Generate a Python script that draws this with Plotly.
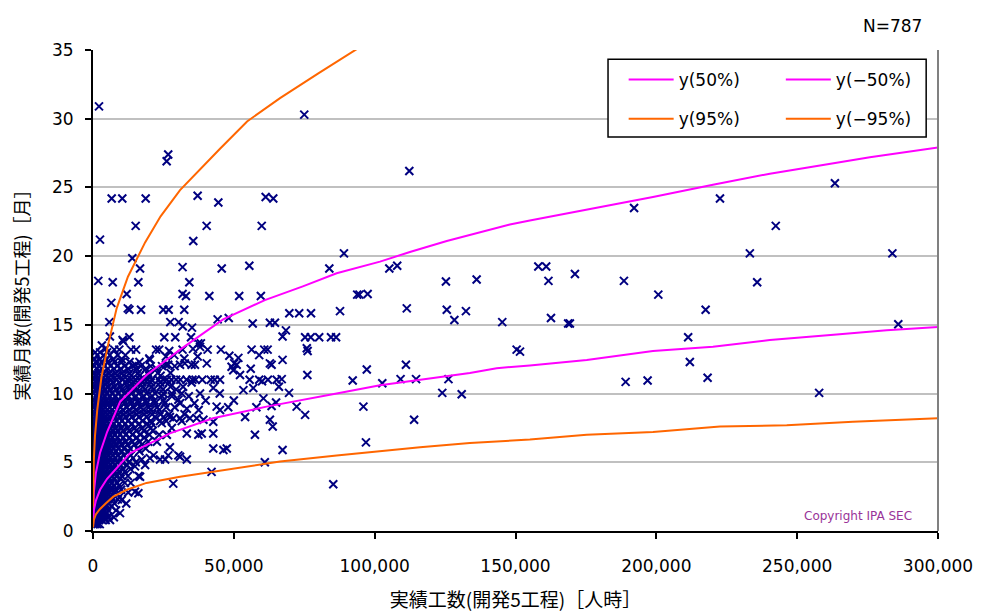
import plotly.graph_objects as go

# ---- project data: effort [man-hours] vs. duration [months] ----
# Dense region near the origin, grouped by duration (months) with the efforts observed at that duration
row_months = [
    0.5, 0.8, 1.0, 1.3, 1.5, 1.8, 2.0, 2.3, 2.5, 2.8,
    3.0, 3.3, 3.5, 3.8, 4.0, 4.3, 4.5, 4.8, 5.0, 5.3,
    5.5, 5.8, 6.0, 6.3, 6.5, 6.8, 7.0, 7.3, 7.5, 7.8,
    8.0, 8.3, 8.5, 8.8, 9.0, 9.3, 9.5, 9.8, 10.0, 10.3,
    10.5, 10.8, 11.0, 11.3, 11.5, 11.8, 12.0, 12.3, 12.5, 12.8,
    13.0,
]
row_efforts = [
    [300, 900, 1600, 2400],
    [500, 1200, 2000, 3200, 4500],
    [200, 800, 1400, 2200, 3000, 4000, 7400],
    [400, 1000, 1700, 2600, 3600, 5000],
    [200, 700, 1300, 2000, 2900, 3900, 5500, 8200],
    [500, 1100, 1800, 2600, 3500, 4600, 6500],
    [200, 800, 1500, 2300, 3200, 4300, 5700, 7600, 11800],
    [500, 1200, 2000, 2900, 4000, 5300, 7000, 8800],
    [300, 900, 1700, 2600, 3700, 5000, 6500, 9500],
    [600, 1400, 2300, 3300, 4500, 6000, 7800, 12500],
    [200, 900, 1700, 2600, 3600, 4800, 6200, 8000, 10000],
    [500, 1200, 2000, 3000, 4200, 5600, 7300, 9200],
    [300, 1000, 1800, 2800, 3900, 5200, 6800, 8700, 11300, 13400],
    [600, 1400, 2300, 3300, 4500, 6000, 7700, 9800],
    [200, 900, 1700, 2600, 3700, 5000, 6500, 8200, 10200, 12400, 16200],
    [500, 1300, 2100, 3100, 4300, 5700, 7300, 9100, 11200],
    [300, 1000, 1900, 2900, 4000, 5400, 7000, 8800, 10800, 13300],
    [700, 1500, 2400, 3500, 4800, 6300, 8000, 9900, 12100, 18500],
    [200, 1000, 1800, 2800, 3900, 5200, 6800, 8500, 10400, 12700, 15200],
    [600, 1400, 2300, 3400, 4600, 6100, 7800, 9600, 11700, 14200],
    [300, 1100, 2000, 3000, 4200, 5600, 7200, 9000, 11000, 13400, 21500],
    [800, 1600, 2600, 3700, 5000, 6600, 8300, 10300, 12600, 16500],
    [200, 1000, 1900, 2900, 4100, 5500, 7100, 8900, 10900, 13200, 15700, 18700],
    [600, 1400, 2400, 3500, 4800, 6300, 8000, 10000, 12200, 14700, 17400],
    [300, 1100, 2100, 3200, 4500, 6000, 7700, 9600, 11700, 14000, 16600, 19600, 22700],
    [800, 1700, 2800, 4000, 5400, 7000, 8800, 10800, 13000, 15500, 18200],
    [200, 1000, 2000, 3100, 4400, 5900, 7600, 9500, 11600, 14000, 16800, 20000, 23500],
    [600, 1500, 2600, 3800, 5200, 6800, 8600, 10600, 12800, 15300, 18000, 21200],
    [300, 1200, 2200, 3400, 4800, 6400, 8200, 10200, 12400, 14800, 17500, 20500, 28000],
    [900, 1900, 3000, 4300, 5800, 7500, 9400, 11500, 13800, 16400, 19200],
    [200, 1100, 2200, 3400, 4800, 6400, 8200, 10200, 12400, 14900, 17600, 20500, 23800, 26000, 31500],
    [700, 1700, 2900, 4200, 5800, 7500, 9400, 11500, 13800, 16300, 19000, 22000, 25000],
    [400, 1400, 2600, 3900, 5400, 7100, 9000, 11000, 13200, 15600, 18200, 21000, 24000, 27000, 32500],
    [1000, 2200, 3500, 5000, 6700, 8600, 10600, 12800, 15200, 17800, 20500, 23500, 37500],
    [300, 1500, 2800, 4300, 6000, 7800, 9800, 12000, 14400, 17000, 19800, 22800, 26000, 29000, 48000],
    [800, 2100, 3600, 5200, 7000, 9000, 11200, 13600, 16200, 19000, 22000, 25500, 36000],
    [500, 1800, 3300, 5000, 6800, 8800, 11000, 13400, 16000, 18800, 21800, 25000, 40000],
    [1200, 2700, 4300, 6100, 8100, 10300, 12700, 15300, 18100, 21000, 24500, 28000, 34000],
    [300, 1600, 3100, 4800, 6700, 8800, 11000, 13500, 16200, 19000, 22000, 25000, 28000, 31500, 38000, 45000],
    [900, 2400, 4100, 6000, 8100, 10400, 12900, 15600, 18500, 21500, 24800, 29500],
    [600, 2000, 3600, 5500, 7600, 9900, 12400, 15000, 17800, 20800, 24000, 27500, 32000],
    [1300, 3000, 4900, 7000, 9300, 11800, 14500, 17400, 20500, 23800, 27000, 35000],
    [300, 1300, 2800, 4500, 6500, 8500, 10500, 12200, 13600, 15000, 16800, 18200, 19500, 20800,
     23300, 24900, 26200, 27800, 29500, 31000, 33200, 35300, 36400, 38800, 41800, 43200, 45100,
     55600, 59000, 62100, 65200],
    [900, 2500, 4300, 6300, 8500, 10800, 13500, 16500, 20000, 24000],
    [600, 2000, 3800, 5800, 8000, 10400, 13000, 16000, 19500, 23000, 27500],
    [1500, 3300, 5300, 7500, 9900, 12500, 15500, 18800, 22500],
    [400, 2000, 4000, 6200, 8600, 11200, 14000, 17000, 20500, 24500, 29000],
    [1000, 3000, 5200, 7600, 10200, 13000, 16500],
    [600, 2500, 4800, 7200, 10200],
    [1500, 3800, 6000, 8800, 11500],
    [800, 2500, 5000],
]

# Individual projects outside the dense region
outlier_effort = [
    2130, 75000, 26700, 26150, 112300, 263400,
    6630, 10400, 18700, 61300, 64000, 222600, 37150, 44500, 192100,
    15150, 40350, 59900, 242400, 2480, 35600,
    89100, 233200, 283800, 13950,
    16700, 31800, 45700, 55500, 83900, 105200, 108000, 158100, 160900, 171100,
    1880, 7000, 16100, 34200, 125300, 136200, 161700, 188500, 235800,
    11950, 31800, 33000, 41300, 51900, 59600, 93800, 94600, 97500, 200700,
    6500, 12350, 12900, 17050, 24950, 26870, 32400, 87700, 111400, 125600, 132400, 217500,
    69700, 73200, 77400, 44250, 48200, 162600, 128300,
    5800, 27450, 30400, 56700, 62800, 64600, 145300, 168700, 169300, 285900,
    31850, 35150, 68500,
    12900, 25300, 29200, 34800, 67300, 75300, 77300, 80300, 84500, 86300, 211300, 6000,
    10500, 10760, 37400, 38300, 3150, 38000,
    4600, 7560, 9340, 13500, 15300, 22400, 23500, 27050, 31800, 35500, 40700, 45400,
    56300, 60800, 62000, 75900, 76200, 150400, 151600,
    20000, 25900, 28850, 32400, 37150, 48400, 51600, 59000, 67300, 20200,
    63400, 111100, 211900, 50150, 51000, 62800, 32600, 36200, 40400, 26700, 30900, 35000, 15000, 25900,
    49200, 49800, 52200, 97200, 76100, 67000, 92200, 109200, 114700, 126200, 218200, 189100, 196900, 102700,
    69600, 124000, 130900, 257800, 56900, 42700, 53400, 60500, 56000, 60000, 66000,
    63400, 65000, 72300, 96000, 30300, 30900, 33300, 43900, 45100, 50000, 58000,
    75300, 114000, 62800, 27300, 28500, 30900, 34400, 36800, 39200, 42700, 20800, 24400, 63800, 54000,
    33300, 37400, 38600, 42700, 26200, 57500,
    67300, 96900, 42700, 46300, 47500, 27300,
    26700, 30300, 30900, 33300, 20200, 23800, 25600, 17300, 61000,
    14900, 42100, 16700, 28500, 85300,
    14900, 16100, 10200, 5430, 6030, 9580,
]
outlier_months = [
    30.9, 30.3, 27.4, 26.9, 26.2, 25.3,
    24.2, 24.2, 24.2, 24.3, 24.2, 24.2, 24.4, 23.9, 23.5,
    22.2, 22.2, 22.2, 22.2, 21.2, 21.1,
    20.2, 20.2, 20.2, 19.85,
    19.1, 19.2, 19.1, 19.3, 19.1, 19.1, 19.3, 19.25, 19.25, 18.7,
    18.2, 18.1, 18.1, 18.1, 18.15, 18.3, 18.2, 18.2, 18.1,
    17.25, 17.25, 17.1, 17.1, 17.1, 17.1, 17.2, 17.2, 17.25, 17.2,
    16.6, 16.2, 16.1, 16.1, 16.1, 16.1, 16.1, 16.0, 16.2, 16.1, 16.0, 16.1,
    15.85, 15.85, 15.85, 15.4, 15.5, 15.5, 15.35,
    15.2, 15.2, 15.2, 15.1, 15.15, 15.15, 15.2, 15.1, 15.1, 15.05,
    14.9, 14.8, 14.6,
    14.1, 14.1, 14.1, 14.1, 14.15, 14.1, 14.1, 14.1, 14.1, 14.1, 14.1, 14.15,
    13.9, 13.8, 13.65, 13.65, 13.5, 13.4,
    13.3, 13.2, 13.2, 13.2, 13.2, 13.2, 13.2, 13.1, 13.2, 13.25, 13.2, 13.2,
    13.2, 13.2, 13.2, 13.3, 13.1, 13.2, 13.05,
    12.55, 12.7, 12.8, 12.55, 12.7, 12.75, 12.6, 12.8, 12.45, 12.45,
    12.1, 12.1, 12.3, 12.2, 12.1, 12.2, 12.2, 12.1, 12.2, 12.1, 12.1, 12.1, 12.1, 12.1,
    11.95, 11.7, 11.35, 11.75, 11.35, 11.05, 10.95, 11.05, 11.05, 11.05, 11.15, 10.85, 10.95, 10.75,
    10.05, 10.05, 9.95, 10.05, 10.4, 10.4, 10.25, 9.65, 11.8, 10.9, 10.5,
    9.1, 9.35, 9.05, 9.05, 9.55, 9.3, 8.9, 9.05, 8.8, 9.5, 9.0,
    8.45, 8.1, 8.1, 8.3, 8.2, 8.2, 8.2, 8.2, 8.1, 7.95, 7.85, 7.85, 7.6, 8.3,
    7.1, 7.0, 7.1, 7.1, 7.0, 7.0,
    5.9, 6.45, 6.0, 5.9, 6.0, 6.1,
    5.5, 5.5, 5.4, 5.2, 5.3, 5.2, 5.2, 5.2, 5.0,
    4.7, 4.3, 3.95, 3.45, 3.4,
    2.85, 2.75, 2.25, 1.05, 0.8, 1.3,
]

# Prediction bands
p50_effort = [10, 100, 300, 1000, 2500, 5000, 9600, 19000, 30900, 46200, 61000, 74500, 86500,
              101900, 112500, 125600, 138500, 148000, 155100, 175300, 198800, 220100, 240300,
              258100, 275800, 300000]
p50_months = [0.9, 1.9, 2.8, 4.2, 5.7, 7.2, 9.4, 11.35, 13.2, 15.4, 16.8, 17.8, 18.75,
              19.6, 20.3, 21.1, 21.8, 22.3, 22.6, 23.4, 24.3, 25.2, 26.0,
              26.6, 27.2, 27.9]

m50_effort = [10, 100, 300, 1000, 2500, 5000, 13100, 27300, 42600, 61600, 74000, 86500, 101900,
              116100, 133800, 143300, 155100, 175300, 198800, 220100, 240300, 264000, 281800, 300000]
m50_months = [0.5, 1.0, 1.5, 2.2, 3.0, 3.8, 5.65, 7.1, 8.2, 9.05, 9.5, 10.0, 10.6,
              11.0, 11.5, 11.85, 12.05, 12.45, 13.1, 13.4, 13.9, 14.3, 14.6, 14.85]

p95_effort = [10, 100, 300, 700, 1500, 3000, 5400, 8400, 12400, 18500, 24000, 30900, 36900,
              45000, 54700, 66400, 80000, 93000, 97000]
p95_months = [1.7, 3.6, 5.2, 6.9, 8.8, 11.2, 13.6, 16.2, 18.5, 21.0, 22.9, 24.8, 26.1,
              27.8, 29.8, 31.5, 33.3, 35.0, 35.5]

m95_effort = [10, 100, 300, 1000, 2500, 4500, 7200, 12000, 19000, 30900, 42600, 49700, 66400,
              86500, 116100, 133800, 155100, 175300, 198800, 222600, 246300, 269800, 300000]
m95_months = [0.26, 0.55, 0.8, 1.2, 1.6, 2.0, 2.5, 3.0, 3.5, 3.95, 4.3, 4.55, 5.05,
              5.5, 6.1, 6.4, 6.65, 7.0, 7.2, 7.6, 7.7, 7.95, 8.2]

x_ticks = [0, 50000, 100000, 150000, 200000, 250000, 300000]
y_ticks = [0, 5, 10, 15, 20, 25, 30, 35]

# ---- build figure ----
proj_x, proj_y = [], []
for m, efforts in zip(row_months, row_efforts):
    proj_x.extend(efforts)
    proj_y.extend([m] * len(efforts))
proj_x.extend(outlier_effort)
proj_y.extend(outlier_months)

NAVY = "#000080"
MAGENTA = "#FF00FF"
ORANGE = "#FF6600"
JP = "Noto Sans CJK JP"
NUM = "DejaVu Sans"

fig = go.Figure()
fig.add_trace(go.Scatter(
    x=proj_x, y=proj_y, mode="markers", showlegend=False,
    marker=dict(symbol="x-thin", size=8, color=NAVY, line=dict(color=NAVY, width=2)),
))

bands = [
    ("y(50%)", p50_effort, p50_months, MAGENTA, "legend"),
    ("y(95%)", p95_effort, p95_months, ORANGE, "legend"),
    ("y(−50%)", m50_effort, m50_months, MAGENTA, "legend2"),
    ("y(−95%)", m95_effort, m95_months, ORANGE, "legend2"),
]
for name, xs, ys, col, leg in bands:
    fig.add_trace(go.Scatter(
        x=xs, y=ys, mode="lines", name=name, legend=leg, legendgroup=name,
        line=dict(color=col, width=2),
    ))

legend_style = dict(
    xanchor="left", yanchor="top", bgcolor="rgba(0,0,0,0)", borderwidth=0,
    font=dict(family=NUM, size=17, color="black"), tracegroupgap=14, itemwidth=45,
)

fig.update_layout(
    width=981, height=612,
    margin=dict(l=93, r=43, t=50, b=81),
    plot_bgcolor="white", paper_bgcolor="white",
    legend=dict(x=0.628, y=0.975, **legend_style),
    legend2=dict(x=0.814, y=0.975, **legend_style),
    xaxis=dict(
        range=[0, 300000], tickvals=x_ticks, tickformat=",", automargin=False,
        showgrid=False, zeroline=False,
        showline=True, linecolor="black", linewidth=2,
        ticks="outside", ticklen=6, tickwidth=2, tickcolor="black", ticklabelstandoff=13,
        tickfont=dict(family=NUM, size=17, color="black"),
        title=dict(text="実績工数(開発5工程)［人時］", font=dict(family=JP, size=19, color="black"), standoff=21),
    ),
    yaxis=dict(
        range=[0, 35], tickvals=y_ticks, automargin=False,
        showgrid=True, gridcolor="#C0C0C0", gridwidth=2, zeroline=False,
        showline=True, linecolor="black", linewidth=2,
        ticks="outside", ticklen=6, tickwidth=2, tickcolor="black", ticklabelstandoff=8,
        tickfont=dict(family=NUM, size=17, color="black"),
        title=dict(text="実績月数(開発5工程)［月］", font=dict(family=JP, size=18, color="black"), standoff=18),
    ),
    shapes=[
        dict(type="line", xref="paper", yref="paper", x0=1, x1=1, y0=0, y1=1,
             line=dict(color="#808080", width=2)),
        dict(type="rect", xref="paper", yref="paper", x0=0.6095, x1=0.986, y0=0.819, y1=0.981,
             line=dict(color="black", width=1.5), fillcolor="white", layer="above"),
    ],
    annotations=[
        dict(text="N=787", xref="paper", yref="paper", x=0.946, y=1.075, xanchor="center",
             showarrow=False, font=dict(family=NUM, size=17, color="black")),
        dict(text="Copyright IPA SEC", xref="paper", yref="paper", x=0.905, y=0.012, xanchor="center",
             showarrow=False, font=dict(family=NUM, size=12, color="#993399")),
    ],
)

fig.write_html("out.html")
